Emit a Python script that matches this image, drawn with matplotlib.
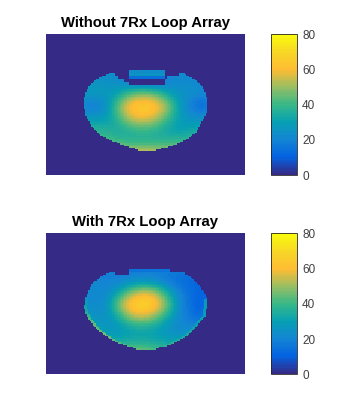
import numpy as np
import matplotlib
matplotlib.use("Agg")
import matplotlib.pyplot as plt
from matplotlib.colors import LinearSegmentedColormap

plt.rcParams['font.family'] = ['Liberation Sans', 'DejaVu Sans']

titles = ["Without 7Rx Loop Array", "With 7Rx Loop Array"]
cbar_ticks = [0, 20, 40, 60, 80]
parula_colors = [(.2081, .1663, .5292), (.0116, .3875, .8820), (.0779, .5208, .8323),
                 (.0238, .6300, .7000), (.2161, .7219, .5310), (.5941, .7450, .3890),
                 (.9977, .7380, .2000), (.9700, .8400, .1500), (.9763, .9831, .0538)]

grid_cols = [12, 16, 20, 24, 28, 32, 36, 40, 44, 48, 52, 56]
grid_rows = [12, 16, 20, 24, 28, 32, 36, 40]
n_cols, n_rows = 132, 94
cell = 0.5

values_top = [
    [22, 22, 22, 22, 22, 22, 22, 22, 22, 22, 22, 22],
    [26, 26, 25, 24, 16, 13, 13, 18, 22, 22, 22, 22],
    [27, 28, 27, 31, 43, 49, 45, 33, 26, 24, 22, 22],
    [20, 17, 24, 46, 64, 67, 65, 52, 30, 18, 11, 20],
    [27, 27, 28, 40, 55, 60, 55, 42, 30, 24, 25, 25],
    [38, 38, 36, 33, 37, 39, 37, 32, 29, 32, 33, 33],
    [38, 40, 43, 40, 37, 36, 37, 38, 40, 40, 40, 40],
    [55, 55, 55, 55, 58, 60, 58, 55, 55, 55, 55, 55],
]
values_bottom = [
    [18, 18, 18, 18, 18, 18, 18, 18, 18, 18, 18, 18],
    [22, 22, 20, 20, 22, 24, 22, 17, 14, 12, 12, 12],
    [22, 22, 21, 32, 48, 58, 54, 36, 20, 14, 10, 12],
    [22, 22, 24, 48, 66, 72, 66, 48, 24, 14, 9, 30],
    [28, 26, 24, 34, 50, 55, 48, 34, 22, 16, 12, 30],
    [34, 32, 26, 26, 30, 32, 30, 25, 22, 22, 24, 30],
    [40, 38, 34, 32, 33, 33, 32, 30, 30, 32, 34, 34],
    [50, 50, 50, 50, 50, 50, 45, 45, 45, 45, 45, 45],
]

shape_rows = list(range(13, 39))
left_top = [20.8, 17.8, 16.3, 15.2, 14.3, 13.7, 13.2, 12.9, 12.7, 12.7, 12.7, 12.7, 12.8,
            13.0, 13.3, 13.8, 14.5, 15.0, 15.6, 16.5, 17.8, 19.5, 21.5, 24.0, 26.5, 30.3]
right_top = [45.8, 48.2, 49.8, 50.8, 51.6, 52.2, 52.7, 53.1, 53.6, 53.6, 53.6, 53.6, 53.5,
             53.2, 52.8, 52.2, 51.4, 50.9, 50.5, 50.0, 49.0, 47.7, 46.0, 44.0, 41.5, 36.5]
left_bottom = [20.8, 18.6, 17.1, 15.8, 15.0, 14.4, 14.0, 13.7, 13.3, 13.0, 12.8, 12.7, 12.7,
               13.0, 13.4, 13.9, 14.7, 15.5, 16.4, 17.3, 18.6, 20.0, 21.6, 23.6, 26.0, 30.0]
right_bottom = [45.8, 47.4, 48.9, 50.0, 50.9, 51.6, 52.1, 52.7, 53.2, 53.6, 53.6, 53.6, 53.3,
                53.0, 53.0, 52.4, 51.3, 50.5, 49.7, 48.9, 47.8, 46.5, 45.2, 43.2, 41.0, 36.5]

notch_rows_top = [13, 14, 15, 16]
notch_left_top = [23, 24, 26, 27.3]
notch_right_top = [44, 40, 39.7, 39.7]
notch_rows_bottom = [13]
notch_left_bottom = [23]
notch_right_bottom = [27.3]

block_rows_top = [12, 13, 14]
block_left_top = [27.3, 27.3, 27.3]
block_right_top = [39.7, 39.7, 39.7]
block_values_top = [23, 25, 14]
block_rows_bottom = [12]
block_left_bottom = [27.3]
block_right_bottom = [41.0]
block_values_bottom = [16]

# bright rim of the lower panel: rows, value at the left edge, value at the right edge
rim_rows = [22, 24, 26, 28, 30, 32, 34, 36, 37]
rim_left_values = [26, 30, 34, 40, 44, 44, 46, 44, 42]
rim_right_values = [26, 28, 28, 30, 30, 32, 34, 36, 38]

# pixel rectangles of the panels: (left, top, width, height)
ax_boxes = [(46, 34, 199, 141), (46, 233.3, 199, 141)]
cax_boxes = [(270.5, 34, 26, 141), (270.5, 233.3, 26, 141)]
W, H = 355, 420


def build(values, left, right, notch_rows, notch_left, notch_right,
          block_rows, block_left, block_right, block_values, rims=None):
    v = np.asarray(values, float)
    xs = (np.arange(n_cols) + 0.5) * cell
    ys = (np.arange(n_rows) + 0.5) * cell
    by_col = np.array([np.interp(xs, grid_cols, r) for r in v])
    field = np.array([np.interp(ys, grid_rows, by_col[:, j]) for j in range(n_cols)]).T
    kernel = np.ones(9) / 9
    smooth = lambda a: np.convolve(np.pad(a, 4, mode="edge"), kernel, "valid")
    field = np.apply_along_axis(smooth, 1, field)
    field = np.apply_along_axis(smooth, 0, field)
    centers = np.array(shape_rows) + 0.5
    img = np.zeros((n_rows, n_cols))
    for i, y in enumerate(ys):
        if y < shape_rows[0] or y > shape_rows[-1] + 1:
            continue
        a = np.interp(y, centers, left)
        b = np.interp(y, centers, right)
        on = (xs >= a) & (xs <= b)
        img[i, on] = field[i, on]
        if rims is not None and rims[0][0] <= y <= rims[0][-1] + 1:
            idx = np.where(on)[0]
            img[i, idx[:2]] = np.interp(y, rims[0], rims[1])
            img[i, idx[-2:]] = np.interp(y, rims[0], rims[2])
    for r, a, b in zip(notch_rows, notch_left, notch_right):
        img[np.ix_((ys >= r) & (ys < r + 1), (xs >= a) & (xs <= b))] = 0
    for r, a, b, val in zip(block_rows, block_left, block_right, block_values):
        img[np.ix_((ys >= r) & (ys < r + 1), (xs >= a) & (xs <= b))] = val
    return img


def to_rect(box):
    l, t, w, h = box
    return [l / W, 1 - (t + h) / H, w / W, h / H]


cmap = LinearSegmentedColormap.from_list("parula_like", parula_colors, N=64)
images = [
    build(values_top, left_top, right_top, notch_rows_top, notch_left_top, notch_right_top,
          block_rows_top, block_left_top, block_right_top, block_values_top),
    build(values_bottom, left_bottom, right_bottom, notch_rows_bottom, notch_left_bottom,
          notch_right_bottom, block_rows_bottom, block_left_bottom, block_right_bottom,
          block_values_bottom, rims=(rim_rows, rim_left_values, rim_right_values)),
]

fig = plt.figure(figsize=(W / 100, H / 100), dpi=100, facecolor="white")
for img, title, ab, cb in zip(images, titles, ax_boxes, cax_boxes):
    ax = fig.add_axes(to_rect(ab))
    im = ax.imshow(img, cmap=cmap, vmin=0, vmax=80, aspect="auto", interpolation="nearest")
    ax.axis("off")
    ax.text(0.5, 1.03, title, transform=ax.transAxes, ha="center", va="bottom",
            fontsize=10.7, fontweight="bold", color="black")
    cax = fig.add_axes(to_rect(cb))
    bar = fig.colorbar(im, cax=cax)
    bar.set_ticks(cbar_ticks)
    bar.ax.tick_params(labelsize=8.5, labelcolor="#404040", length=0, pad=4)
    bar.outline.set_edgecolor("#262626")
    bar.outline.set_linewidth(0.6)

fig.savefig("out.png", dpi=100)
